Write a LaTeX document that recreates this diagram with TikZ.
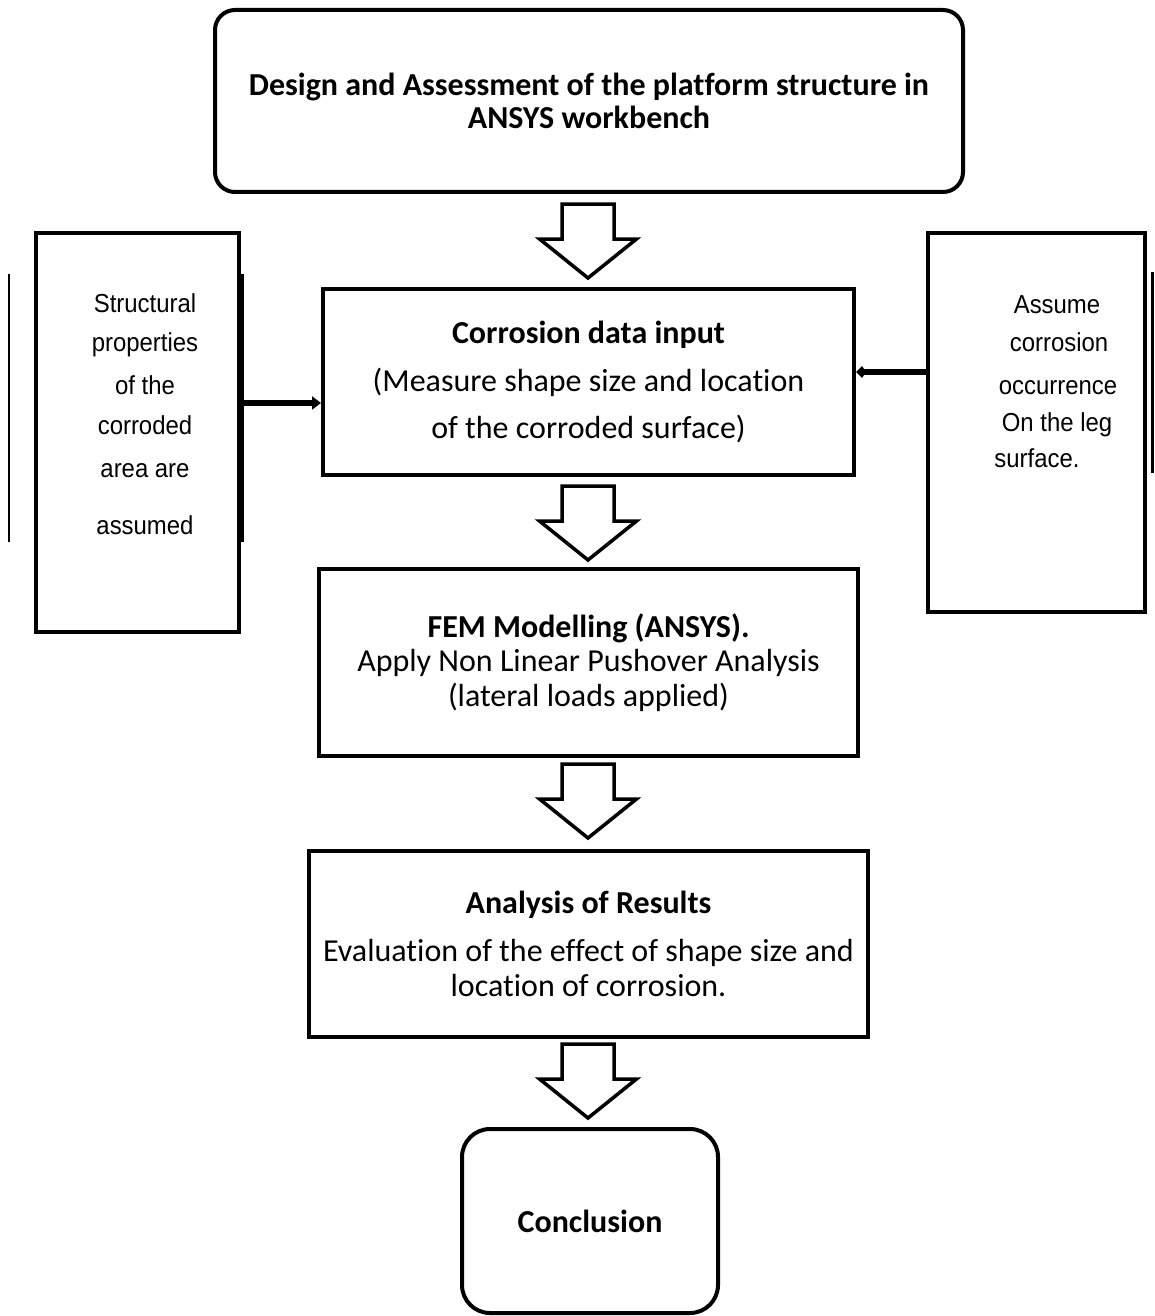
\documentclass[tikz,border=0pt]{standalone}
\usepackage{fontspec}
\setmainfont{Carlito}[Ligatures=NoCommon]
\newfontfamily\sidefont[FakeStretch=0.92]{Liberation Sans}
\newcommand\fsz[1]{\fontsize{32pt}{#1pt}\selectfont}
\usetikzlibrary{arrows.meta,calc}
\begin{document}
\begin{tikzpicture}[x=1pt,y=-1pt,
  box/.style={draw, line width=4pt, inner sep=0pt, align=center, line join=miter},
  sidetext/.style={anchor=base, inner sep=0pt, font=\sidefont\fontsize{26pt}{30pt}\selectfont},
  barrow/.style={draw, line width=3.5pt, fill=white, line join=miter},
  thinline/.style={line width=2.5pt},
  sidearrow/.style={line width=6pt}
]
\fill[white] (0,0) rectangle (1154,1316);
\useasboundingbox (0,0) rectangle (1154,1316);

% main boxes
\node[box, rounded corners=20pt, minimum width=748pt, minimum height=182pt, font=\fsz{33}\bfseries] (top) at (589,101)
  {Design and Assessment of the platform structure in\\ANSYS workbench};
\node[box, minimum width=531pt, minimum height=186pt, font=\fsz{47.5}] (b1) at (588.5,382)
  {{\bfseries Corrosion data input}\\(Measure shape size and location\\of the corroded surface)};
\node[box, minimum width=539pt, minimum height=187pt, font=\fsz{34.5}] (b2) at (588.5,662.5)
  {{\bfseries FEM Modelling (ANSYS).}\\Apply Non Linear Pushover Analysis\\(lateral loads applied)};
\node[box, minimum width=559pt, minimum height=186pt, font=\fsz{35}] (b3) at (588.5,944)
  {{\bfseries Analysis of Results}\\[13pt]Evaluation of the effect of shape size and\\location of corrosion.};
\node[box, rounded corners=28pt, minimum width=256pt, minimum height=184pt, font=\fsz{35}\bfseries] (b4) at (590,1221)
  {Conclusion};

% side boxes
\node[box, minimum width=203pt, minimum height=399pt] (lbox) at (137.5,432.5) {};
\node[box, minimum width=217pt, minimum height=379pt] (rbox) at (1036.5,422.5) {};

% side texts
\node[sidetext] (l1) at (145,312) {Structural};
\node[sidetext] (l2) at (145,351) {properties};
\node[sidetext] (l3) at (145,394) {of the};
\node[sidetext] (l4) at (145,434) {corroded};
\node[sidetext] (l5) at (145,477) {area are};
\node[sidetext] (l6) at (145,534) {assumed};

\node[sidetext] (r1) at (1057,313) {Assume};
\node[sidetext] (r2) at (1059,351) {corrosion};
\node[sidetext] (r3) at (1058,394) {occurrence};
\node[sidetext] (r4) at (1057,431) {On the leg};
\node[sidetext] (r5) at (1037,467) {surface.};

% decorative lines
\draw[thinline] (9,274) -- (9,542);
\draw[line width=5pt] (241,274) -- (241,542);
\draw[thinline] (1152.5,272) -- (1152.5,473);

% side arrows
\coordinate (la) at (0,403);
\coordinate (ra) at (0,372);
\draw[sidearrow, -{Triangle[length=9pt,width=13pt]}] (lbox.east |- la) -- (b1.west |- la);
\draw[sidearrow, -{Kite[length=10pt,width=12pt,inset=4pt]}] (rbox.west |- ra) -- (b1.east |- ra);

% block arrows
\coordinate (t1) at ($(b1.north)+(-0.5,-9)$);
\coordinate (t2) at ($(b2.north)+(-0.5,-7)$);
\coordinate (t3) at ($(b3.north)+(-0.5,-11)$);
\coordinate (t4) at ($(b4.north)+(-2,-9)$);
\foreach \t in {t1,t2,t3,t4}{
  \draw[barrow] ($(\t)+(-26,-74)$) -- ($(\t)+(26,-74)$) -- ($(\t)+(26,-39)$) -- ($(\t)+(48.5,-39)$)
    -- (\t) -- ($(\t)+(-48.5,-39)$) -- ($(\t)+(-26,-39)$) -- cycle;
}
\end{tikzpicture}
\end{document}
